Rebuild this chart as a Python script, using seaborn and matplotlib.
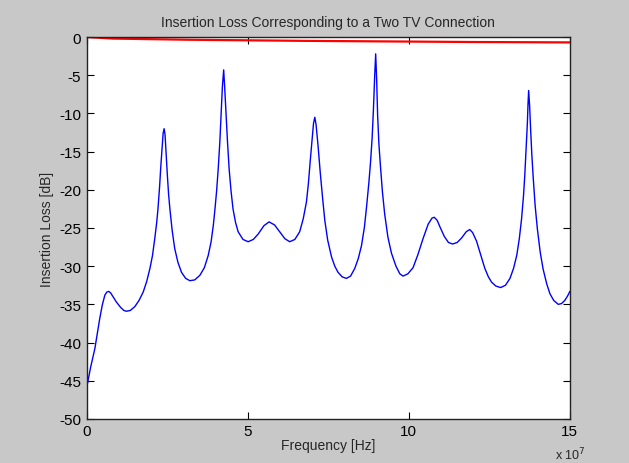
"""
Insertion loss of a two-TV connection, redrawn with seaborn in the old MATLAB look.
"""

import matplotlib
matplotlib.use('Agg')
import matplotlib.pyplot as plt
import seaborn as sns
import pandas as pd

# frequency in units of 1e7 Hz, loss in dB
freq_blue = [0.02, 0.12, 0.25, 0.33, 0.40, 0.48, 0.56, 0.62, 0.68, 0.74, 0.80, 0.92,
             1.05, 1.15, 1.23, 1.35, 1.49, 1.62, 1.75, 1.86, 1.96, 2.04, 2.11, 2.17,
             2.21, 2.26, 2.30, 2.34, 2.37, 2.40, 2.43, 2.46, 2.50, 2.54, 2.58, 2.65,
             2.73, 2.83, 2.94, 3.07, 3.20, 3.35, 3.51, 3.65, 3.77, 3.86, 3.93, 3.98,
             4.03, 4.08, 4.13, 4.18, 4.21, 4.25, 4.28, 4.32, 4.37, 4.42, 4.48, 4.54,
             4.62, 4.70, 4.85, 5.01, 5.17, 5.32, 5.50, 5.66, 5.83, 5.99, 6.15, 6.30,
             6.46, 6.61, 6.72, 6.82, 6.88, 6.94, 7.00, 7.04, 7.08, 7.12, 7.18, 7.25,
             7.32, 7.39, 7.48, 7.60, 7.70, 7.80, 7.93, 8.06, 8.19, 8.32, 8.43, 8.53,
             8.62, 8.69, 8.76, 8.81, 8.86, 8.90, 8.94, 8.97, 9.00, 9.03, 9.07, 9.12,
             9.18, 9.25, 9.35, 9.46, 9.60, 9.72, 9.82, 9.97, 10.13, 10.28, 10.44, 10.60,
             10.72, 10.79, 10.88, 10.96, 11.10, 11.23, 11.36, 11.50, 11.64, 11.78, 11.89, 11.98,
             12.10, 12.23, 12.36, 12.47, 12.57, 12.70, 12.85, 13.00, 13.14, 13.25, 13.35, 13.43,
             13.50, 13.56, 13.60, 13.64, 13.68, 13.70, 13.72, 13.75, 13.78, 13.82, 13.86, 13.92,
             13.99, 14.08, 14.17, 14.28, 14.38, 14.50, 14.64, 14.74, 14.84, 14.93, 15.00]
loss_blue = [-45.4, -43.2, -40.8, -38.7, -36.9, -35.1, -33.8, -33.4, -33.3, -33.5, -33.9, -34.7,
             -35.4, -35.8, -35.9, -35.8, -35.3, -34.5, -33.4, -32.0, -30.3, -28.6, -26.4, -24.3,
             -22.5, -19.6, -16.8, -14.3, -12.6, -12.0, -12.8, -15.0, -18.0, -20.6, -22.5, -25.3,
             -27.7, -29.5, -30.8, -31.6, -31.9, -31.8, -31.2, -30.2, -28.6, -26.8, -24.6, -22.5,
             -20.2, -17.3, -13.8, -9.4, -6.5, -4.3, -6.5, -9.8, -13.8, -17.3, -20.2, -22.5,
             -24.3, -25.5, -26.5, -26.8, -26.5, -25.8, -24.7, -24.2, -24.6, -25.5, -26.4, -26.8,
             -26.5, -25.5, -23.8, -21.6, -19.2, -16.1, -13.2, -11.3, -10.5, -11.5, -14.2, -17.8,
             -21.0, -24.0, -26.6, -28.8, -30.0, -30.8, -31.4, -31.6, -31.3, -30.3, -29.0, -27.3,
             -24.9, -22.1, -19.0, -16.4, -13.2, -9.5, -5.0, -2.2, -5.5, -10.2, -14.0, -17.0,
             -20.3, -23.2, -26.2, -28.3, -30.0, -31.0, -31.3, -31.0, -30.2, -28.5, -26.4, -24.5,
             -23.7, -23.6, -24.0, -24.8, -26.1, -26.9, -27.1, -26.9, -26.3, -25.5, -25.2, -25.6,
             -26.7, -28.5, -30.3, -31.4, -32.1, -32.6, -32.8, -32.5, -31.6, -30.3, -28.6, -26.4,
             -23.8, -20.8, -18.1, -14.8, -11.3, -8.8, -7.0, -9.0, -12.0, -15.5, -18.3, -22.0,
             -25.1, -28.2, -30.4, -32.3, -33.6, -34.5, -35.0, -34.9, -34.5, -33.9, -33.3]

freq_red = [0.0, 0.8, 3.1, 6.8, 12.0, 15.0]
loss_red = [0.0, -0.2, -0.35, -0.5, -0.65, -0.7]

x_ticks = [0, 5, 10, 15]
y_ticks = list(range(0, -51, -5))

sns.set_style('ticks')
plt.rcParams['font.family'] = ['Liberation Sans', 'DejaVu Sans']
plt.rcParams['axes.unicode_minus'] = False

fig = plt.figure(figsize=(6.29, 4.64), dpi=100, facecolor='#c8c8c8')
ax = fig.add_axes([0.138, 0.095, 0.768, 0.823])
ax.set_facecolor('white')

df_blue = pd.DataFrame({'f': freq_blue, 'il': loss_blue})
df_red = pd.DataFrame({'f': freq_red, 'il': loss_red})
sns.lineplot(data=df_blue, x='f', y='il', color='#0000ff', lw=1.0, ax=ax)
sns.lineplot(data=df_red, x='f', y='il', color='#ff0000', lw=1.6, ax=ax)

ax.set_xlim(0, 15)
ax.set_ylim(-50, 0)
ax.set_xticks(x_ticks)
ax.set_yticks(y_ticks)
ax.tick_params(direction='in', length=5, width=0.8, top=True, right=True,
               labelsize=11, colors='black', pad=4)
for s in ax.spines.values():
    s.set_visible(True)
    s.set_color('#222222')
    s.set_linewidth(1.0)

ax.set_title('Insertion Loss Corresponding to a Two TV Connection', fontsize=10, pad=8)
ax.set_xlabel('Frequency [Hz]', fontsize=10, labelpad=0)
ax.set_ylabel('Insertion Loss [dB]', fontsize=10, labelpad=4)
fig.text(0.882, 0.008, r'x 10$^{7}$', fontsize=9)

fig.savefig('out.png', dpi=100, facecolor=fig.get_facecolor())
